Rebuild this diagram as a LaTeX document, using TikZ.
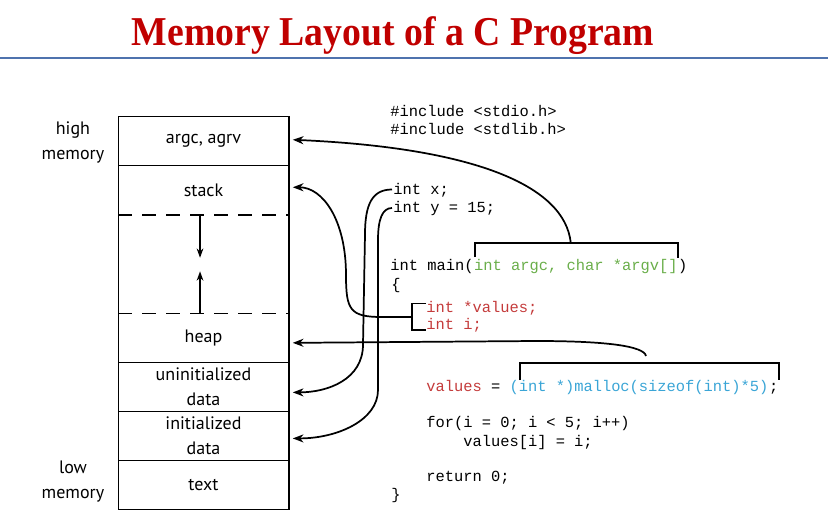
\documentclass[tikz,border=0pt]{standalone}
\usepackage{graphicx}
\usepackage{fontspec}
\setmainfont{Liberation Serif}
\setsansfont{PT Sans}
\setmonofont{Liberation Mono}
\usepackage{tikz}
\usetikzlibrary{arrows.meta, positioning, calc}
\definecolor{titlered}{HTML}{C00000}
\definecolor{rulebl}{HTML}{4F73AE}
\definecolor{argsgreen}{HTML}{6AAE4A}
\definecolor{valsred}{HTML}{C43B3B}
\definecolor{mallocblue}{HTML}{3AA5D6}

\begin{document}
\begin{tikzpicture}[x=0.75pt, y=-0.75pt,
  seg/.style={minimum width=127.5pt, minimum height=36.375pt, inner sep=0pt, align=center,
    font=\sffamily\fontsize{13.5}{18.75}\selectfont},
  side/.style={inner sep=0pt, align=center, font=\sffamily\fontsize{13.5}{18.75}\selectfont},
  code/.style={inner sep=0pt, anchor=base west, font=\ttfamily\fontsize{11.56}{14}\selectfont},
  conn/.style={line width=1.3pt, -{Stealth[length=8pt, width=6pt, inset=2.5pt]}},
  brk/.style={line width=1.3pt},
  growarrow/.style={line width=1.1pt, -{Stealth[length=7pt, width=5pt]}}]
  \useasboundingbox (0,0) rectangle (828,524);
  % title and rule
  \node[anchor=base, text=titlered, font=\bfseries\fontsize{30.75}{36}\selectfont] (title) at (393,46)
    {\scalebox{0.92}[1]{Memory Layout of a C Program}};
  \draw[rulebl, line width=2.2pt] (0,58) -- (828,58);
  % memory segments
  \node[seg] (argc) at (203.5,141.25) {argc, agrv};
  \node[seg, below=0pt of argc] (stack) {stack};
  \node[seg, below=0pt of stack, minimum height=73.5pt] (gap) {};
  \node[seg, below=0pt of gap] (heap) {heap};
  \node[seg, below=0pt of heap] (uninit) {uninitialized\\data};
  \node[seg, below=0pt of uninit] (init) {initialized\\data};
  \node[seg, below=0pt of init] (textseg) {text};
  \draw[line width=1.1pt] (argc.north west) rectangle (textseg.south east);
  \foreach \s in {argc, heap, uninit, init}
    \draw[line width=1.1pt] (\s.south west) -- (\s.south east);
  \draw[line width=1.1pt, dash pattern=on 10.5pt off 7.5pt] (stack.south west) -- (stack.south east);
  \draw[line width=1.1pt, dash pattern=on 10.5pt off 7.5pt] (heap.north west) -- (heap.north east);
  \draw[growarrow] ([xshift=-2.6pt]gap.north) -- ++(0,43);
  \draw[growarrow] ([xshift=-2.6pt]gap.south) -- ++(0,-42);
  \node[side, left=10.3pt of argc, yshift=-0.75pt] (hilbl) {high\\memory};
  \node[side, left=10.3pt of textseg, yshift=2.8pt] (lolbl) {low\\memory};
  % source listing
  \node[code] (inca) at (390,116.5) {\#include <stdio.h>};
  \node[code] (incb) at (390,135) {\#include <stdlib.h>};
  \node[code] (xvar) at (393,194.5) {int x;};
  \node[code] (yvar) at (393,213) {int y = 15;};
  \node[code] (mainhd) at (390,270.5) {int main(};
  \node[code, text=argsgreen] (args) at (mainhd.base east) {int argc, char *argv[]};
  \node[code] (mainrp) at (args.base east) {)};
  \node[code] (lbrace) at (391,289) {\{};
  \node[code, text=valsred] (vals) at (426,312.5) {int *values;};
  \node[code, text=valsred] (ivar) at (426,329.5) {int i;};
  \node[code] (asgn) at (426,391) {\textcolor{valsred}{values} =};
  \node[code, text=mallocblue] (mallocx) at (509.25,391) {(int *)malloc(sizeof(int)*5)};
  \node[code] (semi) at (mallocx.base east) {;};
  \node[code] (forln) at (426,427.5) {for(i = 0; i < 5; i++)};
  \node[code] (loopbody) at (463,446) {values[i] = i;};
  \node[code] (retln) at (426,481.5) {return 0;};
  \node[code] (rbrace) at (391,499) {\}};
  % brackets
  \draw[brk] ([shift={(1,-13.5)}]args.base west) |- ([shift={(0,-27.5)}]args.base east)
    -- ([shift={(0,-13)}]args.base east);
  \draw[brk] ([shift={(0,-9)}]vals.base west) -| ([shift={(-14,0.5)}]ivar.base west)
    -- ([shift={(0,0.5)}]ivar.base west);
  \draw[brk] ([shift={(11,-11)}]mallocx.base west) |- ([shift={(10.5,-28)}]mallocx.base east)
    -- ([shift={(10.5,-11)}]mallocx.base east);
  \coordinate (argvtop) at ([shift={(-5,-27.5)}]args.base);
  \coordinate (valsbr) at ([shift={(-14,-12.5)}]ivar.base west);
  \coordinate (xsrc) at ([shift={(-1,-5)}]xvar.base west);
  \coordinate (ysrc) at ([shift={(-1,-5)}]yvar.base west);
  \coordinate (heapsrc) at ([shift={(7,-35)}]mallocx.base);
  % connectors
  \draw[conn] (argvtop) .. controls +(-6,-58) and +(180,8) .. ([shift={(4,-1.5)}]argc.east);
  \draw[conn] (valsbr) -- ++(-30,0) .. controls +(-32,0) and +(0,35) .. ++(-36,-42)
    .. controls +(0,-55) and +(30,0) .. ([shift={(4,-3)}]stack.east);
  \draw[conn] (xsrc) .. controls +(-20,0) and +(0,-30) .. ++(-27,45) -- ++(-2,110)
    .. controls +(0,35) and +(35,0) .. ([shift={(4,5.5)}]uninit.east);
  \draw[conn] (ysrc) .. controls +(-10,0) and +(0,-20) .. ++(-14,32) -- ++(0,150)
    .. controls +(0,30) and +(45,0) .. ([shift={(4,2.5)}]init.east);
  \draw[conn] (heapsrc) .. controls +(-2,-10) and +(70,0) .. ++(-110,-15)
    -- ([shift={(4,5)}]heap.east);
\end{tikzpicture}
\end{document}
